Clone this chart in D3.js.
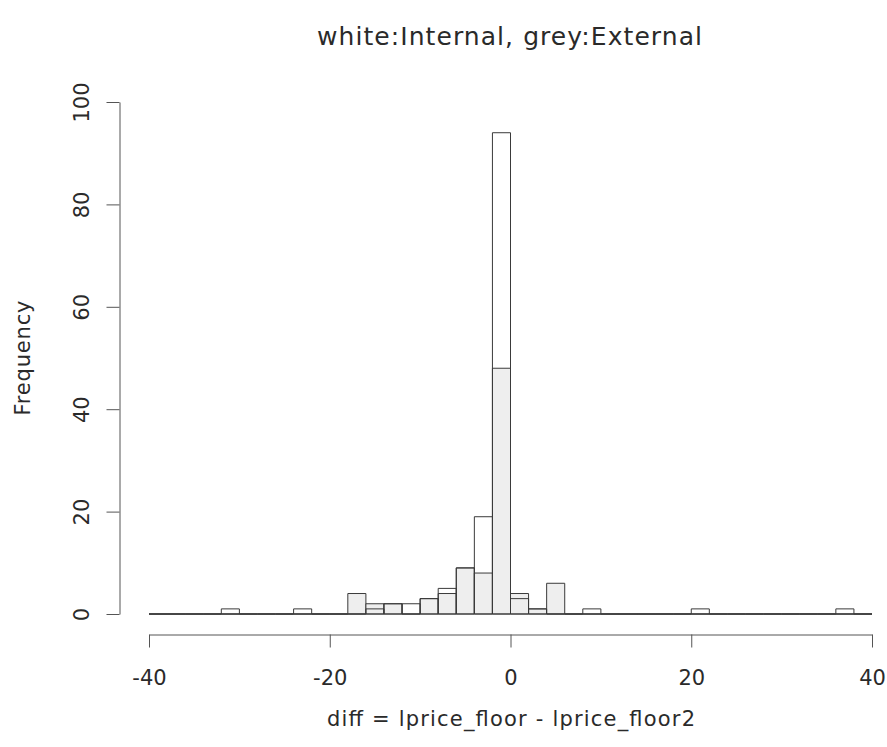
<!DOCTYPE html>
<html><head><meta charset="utf-8">
<script src="https://cdn.jsdelivr.net/npm/d3@7"></script>
<style>
body{margin:0;background:#fff;}
text{font-family:"DejaVu Sans",sans-serif;fill:#2a2a2a;}
</style></head>
<body><svg id="c" width="887" height="747"></svg>
<script>
// bin left edges (width 2) from -40 to 38
const binStarts = d3.range(-40, 40, 2);
const binWidth = 2;
// Internal (white) counts per bin, left edge -40 ... 38
const internal = [0,0,0,0,1,0,0,0,1,0,0,0,1,2,2,3,5,9,19,94,3,1,0,0,1,0,0,0,0,0,1,0,0,0,0,0,0,0,1,0];
// External (grey) counts per bin
const external = [0,0,0,0,0,0,0,0,0,0,0,4,2,2,0,3,4,9,8,48,4,1,6,0,0,0,0,0,0,0,0,0,0,0,0,0,0,0,0,0];
const xTicks = [-40,-20,0,20,40];
const yTicks = [0,20,40,60,80,100];
const title = "white:Internal, grey:External";
const xLabel = "diff = lprice_floor - lprice_floor2";
const yLabel = "Frequency";

const FONT = '"DejaVu Sans",sans-serif';
const svg = d3.select("#c");
const x = d3.scaleLinear().domain([-40,40]).range([149,872]);
const y = d3.scaleLinear().domain([0,100]).range([614,102]);

function barPath(i, v){
  const x0 = x(binStarts[i]), x1 = x(binStarts[i]+binWidth), y0 = y(0), y1 = y(v);
  return `M${x0},${y0}H${x1}V${y1}H${x0}Z`;
}
// external first (grey fill), internal outlines on top
svg.append("g").selectAll("path").data(external).join("path")
  .attr("d",(d,i)=>barPath(i,d)).attr("fill","#eeeeee")
  .attr("stroke","#3a3a3a").attr("stroke-width",1);
svg.append("g").selectAll("path").data(internal).join("path")
  .attr("d",(d,i)=>barPath(i,d)).attr("fill","none")
  .attr("stroke","#3a3a3a").attr("stroke-width",1);

// x axis
const xa = svg.append("g").attr("transform","translate(0,634.5)")
  .call(d3.axisBottom(x).tickValues(xTicks).tickSize(13).tickSizeOuter(0).tickFormat(d=>String(d)));
xa.select(".domain").attr("stroke","#555");
xa.selectAll(".tick line").attr("stroke","#555");
xa.selectAll("text").attr("font-size",21).attr("font-family",FONT).attr("fill","#2a2a2a")
  .attr("y",43).attr("dy",null).attr("dominant-baseline","central");

// y axis
const ya = svg.append("g").attr("transform","translate(119.5,0)")
  .call(d3.axisLeft(y).tickValues(yTicks).tickSize(13).tickSizeOuter(0).tickFormat(d=>String(d)));
ya.select(".domain").attr("stroke","#555");
ya.selectAll(".tick line").attr("stroke","#555");
ya.selectAll("text").attr("font-size",21).attr("font-family",FONT).attr("fill","#2a2a2a")
  .attr("x",null).attr("dy",null)
  .attr("transform","translate(-38,0) rotate(-90)")
  .attr("text-anchor","middle").attr("dominant-baseline","central");

svg.append("text").attr("x",509.5).attr("y",36).attr("text-anchor","middle")
  .attr("dominant-baseline","central").attr("font-size",25)
  .attr("textLength",385).attr("lengthAdjust","spacing").text(title);
svg.append("text").attr("x",511).attr("y",719).attr("text-anchor","middle")
  .attr("dominant-baseline","central").attr("font-size",21)
  .attr("textLength",368).attr("lengthAdjust","spacing").text(xLabel);
svg.append("text").attr("transform","translate(23,358) rotate(-90)").attr("text-anchor","middle")
  .attr("dominant-baseline","central").attr("font-size",21)
  .attr("textLength",115).attr("lengthAdjust","spacing").text(yLabel);
</script></body></html>
